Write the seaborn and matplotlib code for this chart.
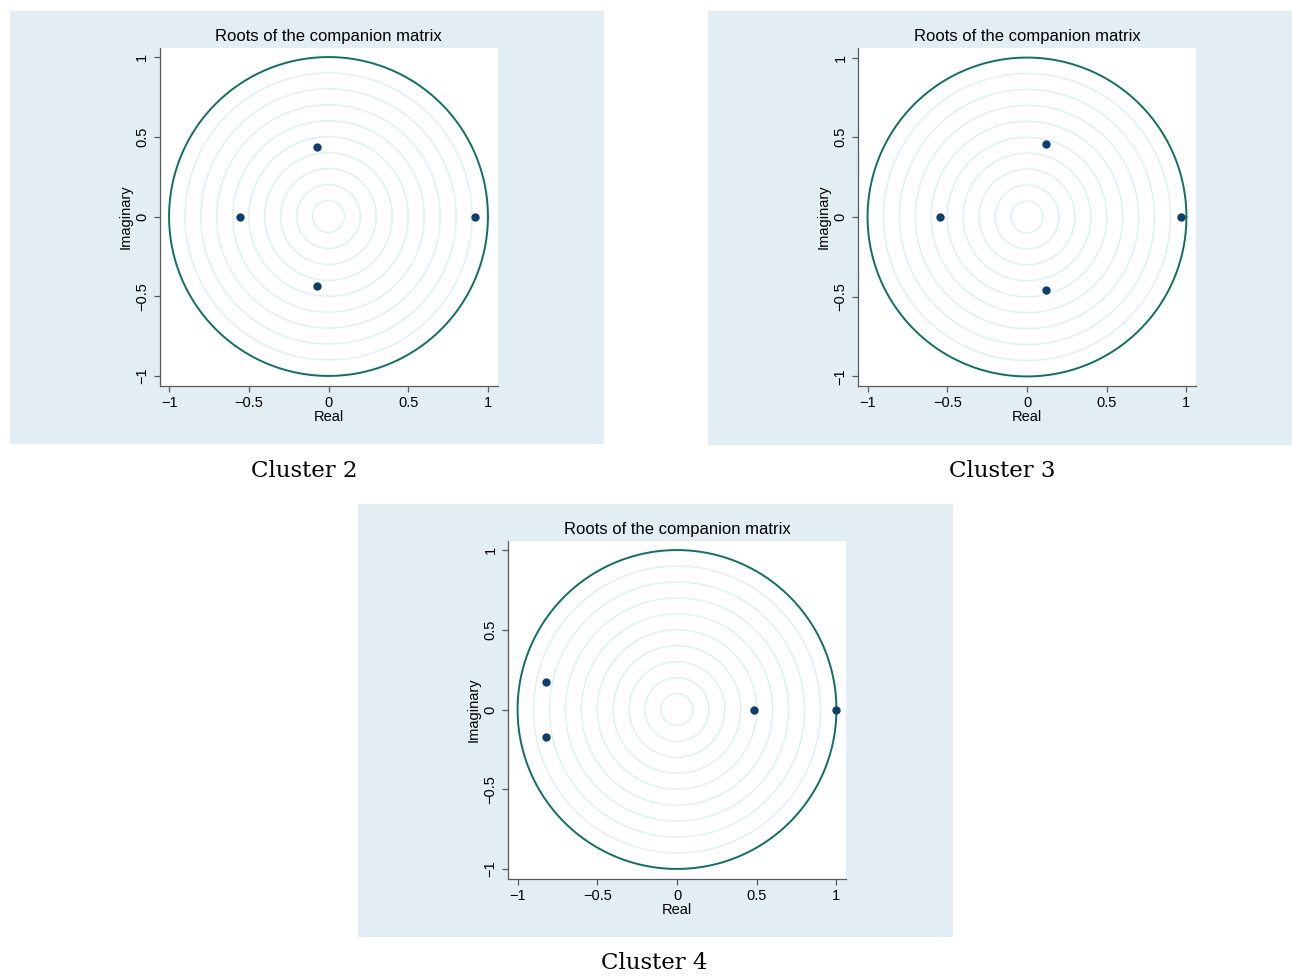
import numpy as np
import matplotlib
matplotlib.use("Agg")
import matplotlib.pyplot as plt
from matplotlib.patches import Rectangle
import seaborn as sns
import pandas as pd

# Roots of the companion matrix for each cluster (real, imaginary parts)
cluster2_real = [0.920, -0.553, -0.071, -0.071]
cluster2_imag = [0.000, 0.000, 0.437, -0.437]

cluster3_real = [0.963, -0.544, 0.121, 0.121]
cluster3_imag = [0.000, 0.000, 0.456, -0.456]

cluster4_real = [0.997, 0.480, -0.820, -0.820]
cluster4_imag = [0.000, 0.000, 0.170, -0.170]

captions = ["Cluster 2", "Cluster 3", "Cluster 4"]
grid_radii = [0.1, 0.2, 0.3, 0.4, 0.5, 0.6, 0.7, 0.8, 0.9]
unit_radius = 1.0
tick_values = [-1, -0.5, 0, 0.5, 1]
tick_labels = ["\u22121", "\u22120.5", "0", "0.5", "1"]

sns.set_style("ticks")
plt.rcParams["font.family"] = ["Liberation Sans", "DejaVu Sans"]
plt.rcParams["text.color"] = "black"
plt.rcParams["axes.labelcolor"] = "black"
plt.rcParams["xtick.labelcolor"] = "black"
plt.rcParams["ytick.labelcolor"] = "black"

W, H = 1292, 976
fig = plt.figure(figsize=(W / 100, H / 100), dpi=100)
fig.patch.set_facecolor("white")

BG = "#E2EEF4"
UNIT = "#10705F"
GRID = "#E2EFF2"
DOT = "#0E3E6A"
AXIS = "#5A5A5A"


def fig_rect(x0, y0, x1, y1):
    return [x0 / W, 1 - y1 / H, (x1 - x0) / W, (y1 - y0) / H]


panels = [
    dict(bg=(10, 11, 604, 444), ax=(159.5, 47.5, 497.5, 385.5),
         real=cluster2_real, imag=cluster2_imag, cap=captions[0], cap_xy=(304, 471)),
    dict(bg=(708, 11, 1292, 445), ax=(858, 48, 1196, 386),
         real=cluster3_real, imag=cluster3_imag, cap=captions[1], cap_xy=(1002, 471)),
    dict(bg=(358, 504, 953, 937), ax=(508, 540.5, 846, 878.5),
         real=cluster4_real, imag=cluster4_imag, cap=captions[2], cap_xy=(654, 963)),
]

theta = np.linspace(0, 2 * np.pi, 721)

for p in panels:
    x0, y0, x1, y1 = p["bg"]
    fig.add_artist(Rectangle((x0 / W, 1 - y1 / H), (x1 - x0) / W, (y1 - y0) / H,
                             transform=fig.transFigure, facecolor=BG,
                             edgecolor="none", zorder=0))

    ax = fig.add_axes(fig_rect(*p["ax"]))
    ax.set_facecolor("white")

    for r in grid_radii:
        ax.plot(r * np.cos(theta), r * np.sin(theta), color=GRID, lw=1.1, zorder=1)
    ax.plot(unit_radius * np.cos(theta), unit_radius * np.sin(theta),
            color=UNIT, lw=1.4, zorder=2)

    df = pd.DataFrame({"Real": p["real"], "Imaginary": p["imag"]})
    sns.scatterplot(data=df, x="Real", y="Imaginary", ax=ax, color=DOT,
                    s=36, linewidth=0, zorder=3)

    ax.set_xlim(-1.06, 1.06)
    ax.set_ylim(-1.06, 1.06)
    ax.set_xticks(tick_values)
    ax.set_xticklabels(tick_labels)
    ax.set_yticks(tick_values)
    ax.set_yticklabels(tick_labels, rotation=90, va="center")

    for side in ["top", "right"]:
        ax.spines[side].set_visible(False)
    for side in ["left", "bottom"]:
        ax.spines[side].set_color(AXIS)
        ax.spines[side].set_linewidth(0.9)
    ax.tick_params(axis="both", direction="out", length=4.5, width=0.9,
                   color=AXIS, labelsize=10.5, labelcolor="black", pad=3)

    ax.set_xlabel("Real", fontsize=10.5, labelpad=0, color="black")
    ax.set_ylabel("Imaginary", fontsize=10.5, labelpad=2, color="black")
    ax.set_title("Roots of the companion matrix", fontsize=12, pad=5, color="black")

    cx, cy = p["cap_xy"]
    fig.text(cx / W, 1 - cy / H, p["cap"], ha="center", va="center",
             fontsize=16.5, family=["DejaVu Serif"], color="black")

fig.savefig("out.png", dpi=100, facecolor="white")
